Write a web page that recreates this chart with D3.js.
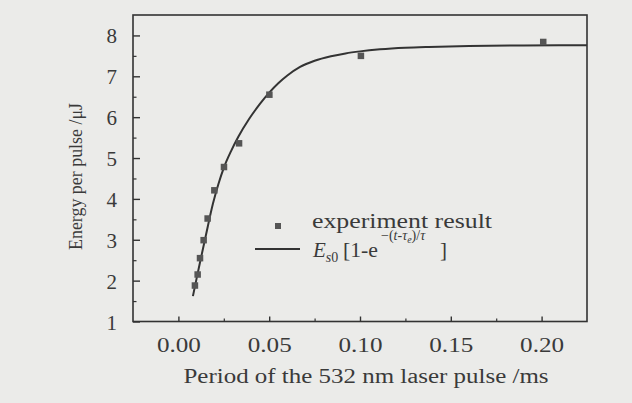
<!DOCTYPE html>
<html><head><meta charset="utf-8">
<script src="https://cdn.jsdelivr.net/npm/d3@7"></script>
<style>
html,body{margin:0;padding:0;background:#ebebe9;}
svg{display:block;}
text{font-family:"Liberation Serif","Times New Roman",Times,"Nimbus Roman",serif;fill:#3a3a3a;}
</style></head>
<body>
<script>
// Experimental points
const periodMs = [0.0091, 0.0106, 0.0119, 0.0139, 0.0161, 0.0198, 0.0251, 0.0334, 0.0501, 0.1005, 0.2009];
const energyUJ = [1.88, 2.15, 2.55, 2.99, 3.52, 4.21, 4.78, 5.36, 6.55, 7.50, 7.84];
// Fitted curve
const fitX = [0.008, 0.010, 0.012, 0.015, 0.019, 0.022, 0.025, 0.029, 0.033, 0.039, 0.045, 0.050, 0.055, 0.060, 0.067, 0.075, 0.084, 0.092, 0.100, 0.111, 0.125, 0.138, 0.160, 0.190, 0.225];
const fitY = [1.62, 2.05, 2.47, 3.08, 3.88, 4.36, 4.76, 5.17, 5.52, 5.96, 6.33, 6.60, 6.83, 7.02, 7.23, 7.38, 7.49, 7.56, 7.61, 7.66, 7.70, 7.72, 7.74, 7.755, 7.76];
// Ticks
const xTicks = [0, 0.05, 0.10, 0.15, 0.20];
const xTickLabels = ["0.00", "0.05", "0.10", "0.15", "0.20"];
const xMinor = [0.025, 0.075, 0.125, 0.175];
const yTicks = [1, 2, 3, 4, 5, 6, 7, 8];
const yMinor = [1.5, 2.5, 3.5, 4.5, 5.5, 6.5, 7.5];

const W = 632, H = 403;
const svg = d3.select("body").append("svg").attr("width", W).attr("height", H);
const L = 133, R = 587, T = 15, B = 321.5;
const x = d3.scaleLinear().domain([-0.025, 0.225]).range([L, R]);
const y = d3.scaleLinear().domain([1, 8.5]).range([B, T]);
const ink = "#333";

// frame
svg.append("rect").attr("x", L).attr("y", T).attr("width", R - L).attr("height", B - T)
  .attr("fill", "none").attr("stroke", ink).attr("stroke-width", 1.6);

// x axis
const xAxis = svg.append("g").attr("transform", `translate(0,${B})`)
  .call(d3.axisBottom(x).tickValues(xTicks).tickSize(-5).tickPadding(0).tickFormat((d, i) => xTickLabels[i]));
xAxis.select(".domain").remove();
xAxis.selectAll("line").attr("stroke", ink).attr("stroke-width", 1.4);
xAxis.selectAll("text").attr("y", 30).attr("dy", null).attr("font-size", 20)
  .attr("textLength", 44).attr("lengthAdjust", "spacingAndGlyphs").style("fill", "#3a3a3a");
const xAxisMinor = svg.append("g").attr("transform", `translate(0,${B})`)
  .call(d3.axisBottom(x).tickValues(xMinor).tickSize(-3).tickFormat(""));
xAxisMinor.select(".domain").remove();
xAxisMinor.selectAll("line").attr("stroke", ink).attr("stroke-width", 1.2);

// y axis
const yAxis = svg.append("g").attr("transform", `translate(${L},0)`)
  .call(d3.axisLeft(y).tickValues(yTicks).tickSize(-7).tickPadding(0).tickFormat(d3.format("d")));
yAxis.select(".domain").remove();
yAxis.selectAll("line").attr("stroke", ink).attr("stroke-width", 1.4);
yAxis.selectAll("text").attr("x", -16).attr("dy", "0.36em").attr("font-size", 21).style("fill", "#3a3a3a");
const yAxisMinor = svg.append("g").attr("transform", `translate(${L},0)`)
  .call(d3.axisLeft(y).tickValues(yMinor).tickSize(-3.5).tickFormat(""));
yAxisMinor.select(".domain").remove();
yAxisMinor.selectAll("line").attr("stroke", ink).attr("stroke-width", 1.2);

// fitted curve
const line = d3.line().x(d => x(d[0])).y(d => y(d[1])).curve(d3.curveMonotoneX);
svg.append("path").datum(fitX.map((v, i) => [v, fitY[i]]))
  .attr("d", line).attr("fill", "none").attr("stroke", ink).attr("stroke-width", 2);

// points
const s = 6.5;
svg.append("g").selectAll("rect").data(periodMs.map((v, i) => [v, energyUJ[i]])).join("rect")
  .attr("x", d => x(d[0]) - s / 2).attr("y", d => y(d[1]) - s / 2)
  .attr("width", s).attr("height", s).attr("fill", "#555");

// legend
svg.append("rect").attr("x", 278 - 3).attr("y", 226 - 3).attr("width", 6).attr("height", 6).attr("fill", "#555");
svg.append("text").attr("x", 312).attr("y", 228).attr("font-size", 21)
  .attr("textLength", 180).attr("lengthAdjust", "spacingAndGlyphs").text("experiment result");
svg.append("line").attr("x1", 255).attr("x2", 300).attr("y1", 249).attr("y2", 249)
  .attr("stroke", ink).attr("stroke-width", 1.8);

// formula: E_s0[1-e^{-(t-τe)/τ}]
const f1 = svg.append("text").attr("x", 313).attr("y", 257).attr("font-size", 21);
f1.append("tspan").attr("font-style", "italic").text("E");
f1.append("tspan").attr("font-size", 14).attr("dy", 5).attr("font-style", "italic").text("s");
f1.append("tspan").attr("font-size", 14).text("0");
svg.append("text").attr("x", 343).attr("y", 257).attr("font-size", 21)
  .attr("textLength", 35).attr("lengthAdjust", "spacingAndGlyphs").text("[1-e");
const f2 = svg.append("text").attr("x", 381).attr("y", 240).attr("font-size", 14);
f2.append("tspan").text("\u2212(");
f2.append("tspan").attr("font-style", "italic").text("t");
f2.append("tspan").text("-");
f2.append("tspan").attr("font-style", "italic").text("\u03C4");
f2.append("tspan").attr("font-style", "italic").attr("font-size", 10).attr("dy", 3).text("e");
f2.append("tspan").attr("dy", -3).text(")/");
f2.append("tspan").attr("font-style", "italic").text("\u03C4");
svg.append("text").attr("x", 440).attr("y", 257).attr("font-size", 21).text("]");

// axis titles
svg.append("text").attr("x", 366).attr("y", 383).attr("text-anchor", "middle").attr("font-size", 20)
  .attr("textLength", 365).attr("lengthAdjust", "spacingAndGlyphs")
  .text("Period of the 532 nm laser pulse /ms");
svg.append("text").attr("transform", "translate(82,176.5) rotate(-90)").attr("text-anchor", "middle")
  .attr("font-size", 18).attr("textLength", 147).attr("lengthAdjust", "spacingAndGlyphs")
  .text("Energy per pulse /\u03BCJ");
</script>
</body></html>
